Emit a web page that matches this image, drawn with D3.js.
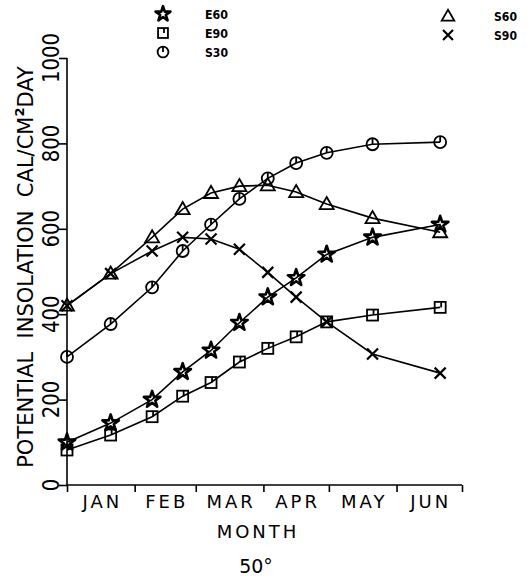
<!DOCTYPE html>
<html>
<head>
<meta charset="utf-8">
<script src="https://cdn.jsdelivr.net/npm/d3@7"></script>
<style>
  html, body { margin: 0; padding: 0; background: #fff; }
  svg { display: block; }
  text { font-family: "DejaVu Sans", sans-serif; fill: #000; }
</style>
</head>
<body>
<svg id="chart" width="530" height="577"></svg>
<script>
// ---- data (x = day of year, approx. dates of the plotted points) ----
const pointDays = [0, 20, 39, 53, 66, 79, 92, 105, 119, 140, 171];
const E60 = [100, 145, 200, 265, 315, 380, 440, 485, 540, 580, 610];
const E90 = [82, 117, 160, 208, 240, 288, 320, 347, 382, 398, 416];
const S30 = [300, 377, 463, 548, 610, 670, 718, 754, 778, 798, 803];
const S60 = [420, 495, 580, 646, 684, 700, 702, 686, 658, 625, 592];
const S90 = [420, 495, 548, 580, 576, 552, 498, 440, 382, 307, 262];
const monthNames = ["JAN", "FEB", "MAR", "APR", "MAY", "JUN"];
const monthStarts = [0, 31, 59, 90, 120, 151, 181];
const yTicks = [0, 200, 400, 600, 800, 1000];

const svg = d3.select("#chart");
const x = d3.scaleLinear().domain([0, 181]).range([67, 462]);
const y = d3.scaleLinear().domain([0, 1000]).range([485, 58]);

const series = [
  { name: "E60", values: E60, sym: "star" },
  { name: "E90", values: E90, sym: "square" },
  { name: "S30", values: S30, sym: "circle" },
  { name: "S60", values: S60, sym: "triangle" },
  { name: "S90", values: S90, sym: "cross" }
];

// ---- axes ----
const yAxis = d3.axisLeft(y).tickValues(yTicks).tickSize(8).tickFormat("");
const gy = svg.append("g").attr("transform", "translate(67,0)").call(yAxis);
gy.select(".domain").attr("d", `M0,${y(0)}V${y(1000)}`);
gy.selectAll("line, path").attr("stroke", "#000").attr("stroke-width", 1.6);

const xAxis = d3.axisBottom(x).tickValues(monthStarts).tickSize(7).tickFormat("");
const gx = svg.append("g").attr("transform", `translate(0,${y(0)})`).call(xAxis);
gx.select(".domain").attr("d", `M${x(0)},0H${x(181)}`);
gx.selectAll("line, path").attr("stroke", "#000").attr("stroke-width", 1.6);

// y tick labels (rotated)
svg.append("g").selectAll("text").data(yTicks).enter().append("text")
  .attr("transform", d => `translate(59,${y(d)}) rotate(-90)`)
  .attr("text-anchor", "middle")
  .style("font-size", "23px")
  .attr("textLength", d => String(d).length * 12.5)
  .attr("lengthAdjust", "spacingAndGlyphs")
  .text(d => d);

// month labels
svg.append("g").selectAll("text").data(monthNames).enter().append("text")
  .attr("x", (d, i) => (x(monthStarts[i]) + x(monthStarts[i + 1])) / 2 + 1.5)
  .attr("y", 508)
  .attr("text-anchor", "middle")
  .style("font-size", "18px")
  .style("letter-spacing", "3px")
  .text(d => d);

svg.append("text").attr("x", 258).attr("y", 538).attr("text-anchor", "middle")
  .style("font-size", "18px").style("letter-spacing", "3px").text("MONTH");

svg.append("text").attr("x", 256).attr("y", 573).attr("text-anchor", "middle")
  .style("font-size", "19px").text("50°");

// y title
const yt = svg.append("text")
  .attr("transform", "translate(33,267) rotate(-90)")
  .attr("text-anchor", "middle")
  .style("font-size", "21px")
  .style("white-space", "pre")
  .attr("xml:space", "preserve");
yt.append("tspan").text("POTENTIAL  INSOLATION  CAL/CM");
yt.append("tspan").attr("dy", -9).style("font-size", "13px").style("font-weight", "bold").text("2");
yt.append("tspan").attr("dy", 9).text("DAY");

// ---- markers ----
function drawMarker(g, sym, cx, cy, scale) {
  const s = scale || 1;
  const st = { stroke: "#000", "stroke-width": 1.8, fill: "none" };
  const apply = sel => { Object.entries(st).forEach(([k, v]) => sel.attr(k, v)); return sel; };
  if (sym === "star") {
    apply(g.append("path").attr("d", d3.symbol().type(d3.symbolStar).size(85 * s * s)())
      .attr("transform", `translate(${cx},${cy})`)).attr("stroke-width", 2.6).attr("stroke-linejoin", "round");
  } else if (sym === "square") {
    const h = 5.5 * s;
    apply(g.append("rect").attr("x", cx - h).attr("y", cy - h).attr("width", 2 * h).attr("height", 2 * h));
    apply(g.append("line").attr("x1", cx + 1).attr("y1", cy - h).attr("x2", cx + 1).attr("y2", cy));
  } else if (sym === "circle") {
    const r = 6 * s;
    apply(g.append("circle").attr("cx", cx).attr("cy", cy).attr("r", r));
    apply(g.append("line").attr("x1", cx).attr("y1", cy - r).attr("x2", cx).attr("y2", cy));
  } else if (sym === "triangle") {
    apply(g.append("path").attr("d", d3.symbol().type(d3.symbolTriangle).size(85 * s * s)())
      .attr("transform", `translate(${cx},${cy + 1})`));
  } else if (sym === "cross") {
    const h = 5.5 * s;
    apply(g.append("path").attr("d", `M${cx - h},${cy - h}L${cx + h},${cy + h}M${cx - h},${cy + h}L${cx + h},${cy - h}`))
      .attr("stroke-width", 2.2);
  }
}

const line = d3.line().x(d => x(d[0])).y(d => y(d[1]));
const plot = svg.append("g");
series.forEach(s => {
  const pts = pointDays.map((d, i) => [d, s.values[i]]);
  plot.append("path").attr("d", line(pts)).attr("fill", "none")
    .attr("stroke", "#000").attr("stroke-width", 1.6);
});
series.forEach(s => {
  const g = plot.append("g");
  pointDays.forEach((d, i) => drawMarker(g, s.sym, x(d), y(s.values[i])));
});

// ---- legend ----
const legendItems = [
  { name: "E60", sym: "star", mx: 163, my: 14, tx: 205, ty: 19 },
  { name: "E90", sym: "square", mx: 163, my: 33, tx: 205, ty: 38 },
  { name: "S30", sym: "circle", mx: 163, my: 52, tx: 205, ty: 57 },
  { name: "S60", sym: "triangle", mx: 448, my: 16, tx: 494, ty: 21 },
  { name: "S90", sym: "cross", mx: 448, my: 35, tx: 494, ty: 40 }
];
const lg = svg.append("g");
legendItems.forEach(it => {
  drawMarker(lg, it.sym, it.mx, it.my, 0.9);
  lg.append("text").attr("x", it.tx).attr("y", it.ty)
    .style("font-weight", "bold")
    .style("font-size", "12.5px")
    .attr("textLength", 23)
    .attr("lengthAdjust", "spacingAndGlyphs")
    .text(it.name);
});
</script>
</body>
</html>
